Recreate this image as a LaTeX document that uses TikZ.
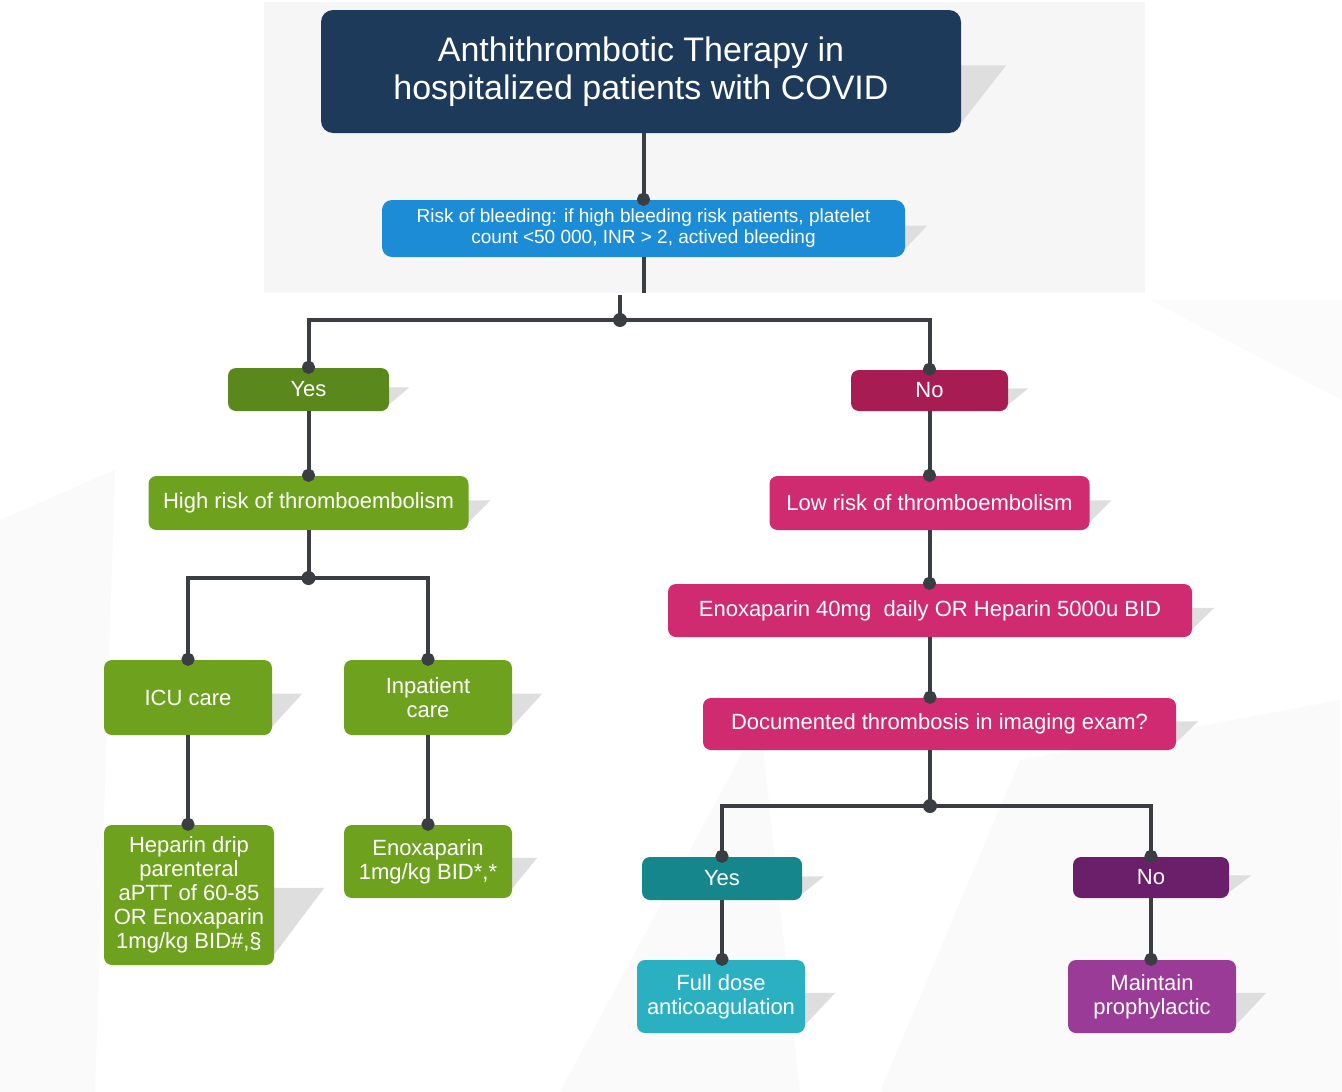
\documentclass[tikz,border=0pt]{standalone}
\usepackage{fontspec}
\setmainfont{Liberation Sans}
\usetikzlibrary{arrows.meta,calc,backgrounds}

\definecolor{navy}{RGB}{29,58,90}
\definecolor{bleu}{RGB}{28,140,214}
\definecolor{olive}{RGB}{91,136,28}
\definecolor{vert}{RGB}{110,162,30}
\definecolor{bordeaux}{RGB}{168,28,84}
\definecolor{rose}{RGB}{208,42,112}
\definecolor{sarcelle}{RGB}{20,134,140}
\definecolor{turquoise}{RGB}{43,176,194}
\definecolor{prune}{RGB}{107,31,107}
\definecolor{mauve}{RGB}{155,59,152}
\definecolor{trait}{RGB}{58,62,66}

\tikzset{
  boite/.style={rounded corners=8pt, text=white, align=center, inner sep=0pt,
    font=\fontsize{22}{24}\selectfont},
  lien/.style={draw=trait, line width=4pt},
  pointe/.style={lien, -{Circle[length=13pt]}, shorten >=-6pt},
  ombre/.style={fill=black!13},
}
\newcommand{\ombreboite}[2]{%
  \fill[ombre] ($(#1.north east)!0.45!(#1.south east)+(-8,0)$) -- ++(#2+8,0)
    -- ($(#1.south east)+(-8,0)$) -- cycle;}

\begin{document}
\begin{tikzpicture}[x=1pt,y=-1pt]
    \useasboundingbox (0,0) rectangle (1342,1092);

    % les boites
    \node[boite, fill=navy, minimum width=640, minimum height=123, rounded corners=12pt,
      font=\fontsize{34}{38}\selectfont] (titre) at (641,71.5)
      {Anthithrombotic Therapy in\\hospitalized patients with COVID};
    \node[boite, fill=bleu, minimum width=523, minimum height=57, rounded corners=10pt,
      font=\fontsize{19}{21}\selectfont] (risque) at (643.5,228.5)
      {Risk of bleeding: if high bleeding risk patients, platelet\\count <50 000, INR > 2, actived bleeding};

    \node[boite, fill=olive, minimum width=161, minimum height=43] (oui) at (308.5,389.5) {Yes};
    \node[boite, fill=bordeaux, minimum width=157, minimum height=41] (non) at (929.5,390.5) {No};

    \node[boite, fill=vert, minimum width=320, minimum height=54] (haut) at (308.5,503) {High risk of thromboembolism};
    \node[boite, fill=vert, minimum width=168, minimum height=75] (icu) at (188,697.5) {ICU care};
    \node[boite, fill=vert, minimum width=168, minimum height=75] (hosp) at (428,697.5) {Inpatient\\care};
    \node[boite, fill=vert, minimum width=170, minimum height=140] (heparine) at (189,895)
      {Heparin drip\\parenteral\\aPTT of 60-85\\OR Enoxaparin\\1mg/kg BID\#,§};
    \node[boite, fill=vert, minimum width=168, minimum height=73] (enoxa) at (428,861.5)
      {Enoxaparin\\1mg/kg BID*,*};

    \node[boite, fill=rose, minimum width=320, minimum height=54] (bas) at (929.5,503) {Low risk of thromboembolism};
    \node[boite, fill=rose, minimum width=524, minimum height=53] (proph) at (930,610.5)
      {Enoxaparin 40mg\ \ daily OR Heparin 5000u BID};
    \node[boite, fill=rose, minimum width=473, minimum height=52] (imagerie) at (939.5,724)
      {Documented thrombosis in imaging exam?};

    \node[boite, fill=sarcelle, minimum width=160, minimum height=43] (oui2) at (722,878.5) {Yes};
    \node[boite, fill=prune, minimum width=156, minimum height=41] (non2) at (1151,877.5) {No};
    \node[boite, fill=turquoise, minimum width=168, minimum height=73] (pleine) at (721,996.5)
      {Full dose\\anticoagulation};
    \node[boite, fill=mauve, minimum width=168, minimum height=73] (maintien) at (1152,996.5)
      {Maintain\\prophylactic};

    % fond et ombres
    \begin{scope}[on background layer]
      \fill[white] (0,0) rectangle (1342,1092);
      \fill[gray!7] (264,2) rectangle (1145,293);
      \fill[gray!4] (0,520) -- (115,470) -- (95,1092) -- (0,1092) -- cycle;
      \fill[gray!4] (560,1092) -- (760,720) -- (800,1092) -- cycle;
      \fill[gray!4] (880,1092) -- (1020,760) -- (1340,700) -- (1342,1092) -- cycle;
      \fill[gray!3] (1150,300) -- (1342,300) -- (1342,400) -- cycle;
      \ombreboite{titre}{45}
      \ombreboite{risque}{22}
      \ombreboite{oui}{20}
      \ombreboite{non}{20}
      \ombreboite{haut}{22}
      \ombreboite{icu}{30}
      \ombreboite{hosp}{30}
      \ombreboite{heparine}{50}
      \ombreboite{enoxa}{25}
      \ombreboite{bas}{22}
      \ombreboite{proph}{22}
      \ombreboite{imagerie}{22}
      \ombreboite{oui2}{22}
      \ombreboite{non2}{22}
      \ombreboite{pleine}{30}
      \ombreboite{maintien}{30}
    \end{scope}

    % jonctions
    \coordinate (coupe) at (643.5,293);
    \coordinate (coupe2) at (620,295);
    \coordinate (j1) at (620,320);
    \coordinate (j2) at (308.5,578);
    \coordinate (j3) at (930,806);

    % liaisons
    \draw[pointe] (titre.south -| risque.north) -- (risque.north);
    \draw[lien] (risque.south) -- (coupe);
    \draw[lien] (coupe2) -- (j1);
    \draw[pointe] (j1) -| (oui.north);
    \draw[pointe] (j1) -| (non.north);
    \draw[pointe] (oui.south) -- (haut.north);
    \draw[lien] (haut.south) -- (j2);
    \draw[pointe] (j2) -| (icu.north);
    \draw[pointe] (j2) -| (hosp.north);
    \draw[pointe] (icu.south) -- (heparine.north -| icu.south);
    \draw[pointe] (hosp.south) -- (enoxa.north);
    \draw[pointe] (non.south) -- (bas.north);
    \draw[pointe] (bas.south) -- (proph.north -| bas.south);
    \draw[pointe] (proph.south) -- (imagerie.north -| proph.south);
    \draw[lien] (imagerie.south -| j3) -- (j3);
    \draw[pointe] (j3) -| (oui2.north);
    \draw[pointe] (j3) -| (non2.north);
    \draw[pointe] (oui2.south) -- (pleine.north -| oui2.south);
    \draw[pointe] (non2.south) -- (maintien.north -| non2.south);
    \foreach \j in {j1,j2,j3}
      \fill[trait] (\j) circle (7pt);
\end{tikzpicture}
\end{document}
